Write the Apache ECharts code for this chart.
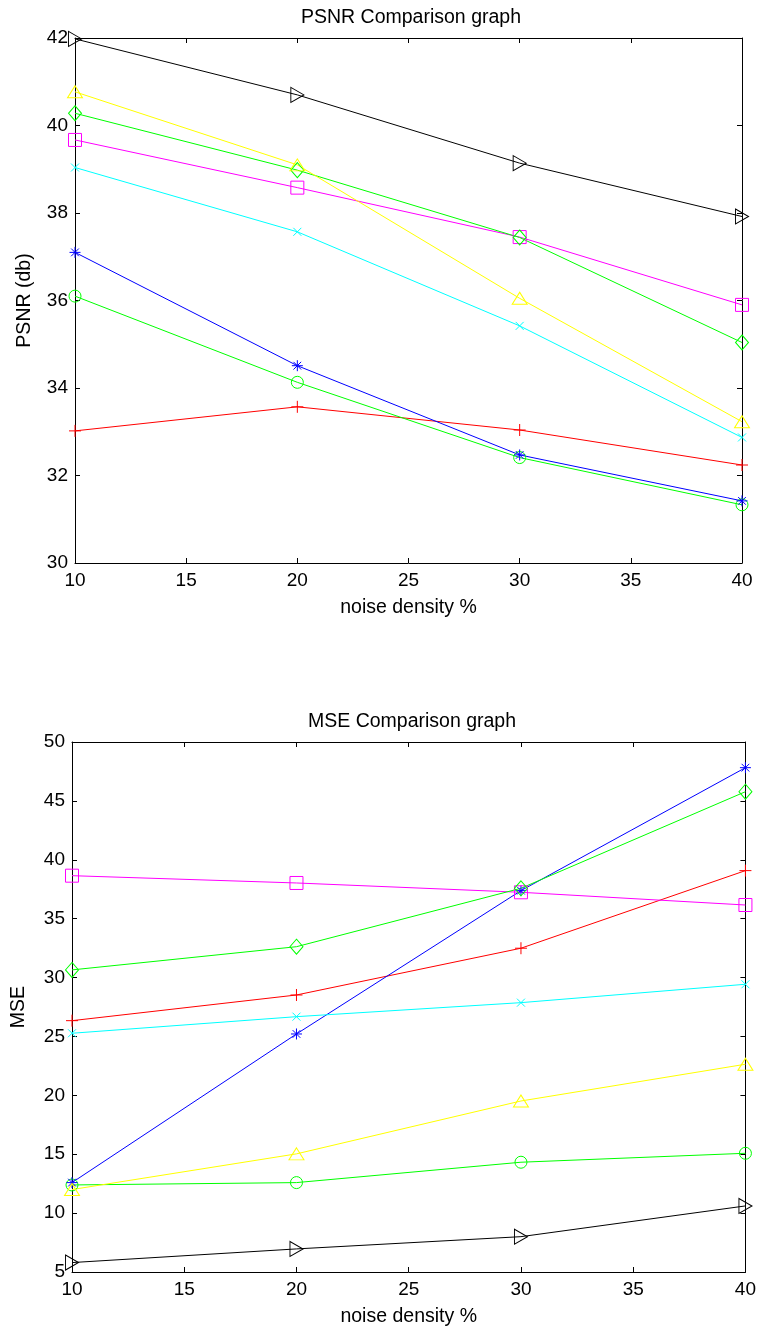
<!DOCTYPE html>
<html>
<head>
<meta charset="utf-8">
<script src="https://cdn.jsdelivr.net/npm/echarts@6/dist/echarts.min.js"></script>
<style>
  html, body { margin: 0; padding: 0; background: #fff; }
  #main { width: 759px; height: 1331px; }
</style>
</head>
<body>
<div id="main"></div>
<script>
// noise density levels (x axis)
var noise = [10, 20, 30, 40];

// PSNR values (top graph)
var psnrTriRight = [41.98, 40.70, 39.14, 37.92];
var psnrTriUp = [40.77, 39.10, 36.05, 33.23];
var psnrDiamond = [40.28, 38.98, 37.44, 35.04];
var psnrSquare = [39.67, 38.58, 37.45, 35.90];
var psnrCross = [39.04, 37.57, 35.42, 32.87];
var psnrStar = [37.10, 34.51, 32.47, 31.42];
var psnrCircle = [36.10, 34.13, 32.41, 31.33];
var psnrPlus = [33.02, 33.57, 33.04, 32.24];

// MSE values (bottom graph)
var mseSquare = [38.65, 38.03, 37.24, 36.16];
var mseDiamond = [30.65, 32.62, 37.58, 45.78];
var mseStar = [12.59, 25.21, 37.38, 47.82];
var msePlus = [26.34, 28.52, 32.49, 39.08];
var mseCross = [25.27, 26.68, 27.87, 29.43];
var mseTriUp = [12.0, 15.03, 19.52, 22.64];
var mseCircle = [12.39, 12.59, 14.32, 15.08];
var mseTriRight = [5.80, 6.96, 8.0, 10.61];

var FONT = 'Liberation Sans, Arial, sans-serif';

var SYM = {
  triRight: 'path://M0,0L10,5L0,10Z',
  triUp: 'triangle',
  diamond: 'diamond',
  square: 'rect',
  circle: 'circle',
  plus: 'path://M5,0L5,10M0,5L10,5',
  star: 'path://M5,0L5,10M0,5L10,5M1.5,1.5L8.5,8.5M1.5,8.5L8.5,1.5',
  cross: 'path://M0,0L10,10M0,10L10,0'
};

function pair(vals) {
  return vals.map(function (v, i) { return [noise[i], v]; });
}

function line(name, vals, color, sym, size, gi) {
  return {
    name: name,
    type: 'line',
    xAxisIndex: gi * 2,
    yAxisIndex: gi * 2,
    data: pair(vals),
    symbol: SYM[sym],
    symbolSize: size,
    showSymbol: true,
    lineStyle: { color: color, width: 1 },
    itemStyle: { color: 'none', borderColor: color, borderWidth: 1 },
    emphasis: { disabled: true },
    z: 3
  };
}

function xAxes(gi) {
  var main = {
    type: 'value', gridIndex: gi, min: 10, max: 40, interval: 5,
    position: 'bottom',
    name: 'noise density %', nameLocation: 'middle', nameGap: 35,
    nameTextStyle: { color: '#000', fontSize: 19.5, fontFamily: FONT },
    axisLine: { show: true, onZero: false, lineStyle: { color: '#000', width: 1 } },
    axisTick: { show: true, inside: true, length: 5, lineStyle: { color: '#000' } },
    axisLabel: { color: '#000', fontSize: 19, fontFamily: FONT, margin: 8 },
    splitLine: { show: false }
  };
  var top = {
    type: 'value', gridIndex: gi, min: 10, max: 40, interval: 5,
    position: 'top',
    axisLine: { show: true, onZero: false, lineStyle: { color: '#000', width: 1 } },
    axisTick: { show: true, inside: true, length: 5, lineStyle: { color: '#000' } },
    axisLabel: { show: false },
    splitLine: { show: false }
  };
  return [main, top];
}

function yAxes(gi, min, max, step, name, gap) {
  var main = {
    type: 'value', gridIndex: gi, min: min, max: max, interval: step,
    position: 'left',
    name: name, nameLocation: 'middle', nameGap: gap, nameRotate: 90,
    nameTextStyle: { color: '#000', fontSize: 19.5, fontFamily: FONT },
    axisLine: { show: true, onZero: false, lineStyle: { color: '#000', width: 1 } },
    axisTick: { show: true, inside: true, length: 5, lineStyle: { color: '#000' } },
    axisLabel: { color: '#000', fontSize: 19, fontFamily: FONT, margin: 7 },
    splitLine: { show: false }
  };
  var right = {
    type: 'value', gridIndex: gi, min: min, max: max, interval: step,
    position: 'right',
    axisLine: { show: true, onZero: false, lineStyle: { color: '#000', width: 1 } },
    axisTick: { show: true, inside: true, length: 5, lineStyle: { color: '#000' } },
    axisLabel: { show: false },
    splitLine: { show: false }
  };
  return [main, right];
}

var myChart = echarts.init(document.getElementById('main'));

var option = {
  animation: false,
  backgroundColor: '#fff',
  title: [
    {
      text: 'PSNR Comparison graph', left: 406, top: 3, textAlign: 'center',
      textStyle: { color: '#000', fontSize: 19.5, fontWeight: 'normal', fontFamily: FONT }
    },
    {
      text: 'MSE Comparison graph', left: 407, top: 707, textAlign: 'center',
      textStyle: { color: '#000', fontSize: 19.5, fontWeight: 'normal', fontFamily: FONT }
    }
  ],
  grid: [
    { left: 75, top: 38, width: 667, height: 525 },
    { left: 72, top: 742, width: 674, height: 530 }
  ],
  xAxis: xAxes(0).concat(xAxes(1)),
  yAxis: yAxes(0, 30, 42, 2, 'PSNR (db)', 40).concat(yAxes(1, 5, 50, 5, 'MSE', 43)),
  series: [
    line('psnr plus', psnrPlus, '#ff0000', 'plus', 12, 0),
    line('psnr circle', psnrCircle, '#00ff00', 'circle', 12, 0),
    line('psnr star', psnrStar, '#0000ff', 'star', 11, 0),
    line('psnr x', psnrCross, '#00ffff', 'cross', 8, 0),
    line('psnr square', psnrSquare, '#ff00ff', 'square', 13, 0),
    line('psnr diamond', psnrDiamond, '#00ff00', 'diamond', [13, 15], 0),
    line('psnr triangle', psnrTriUp, '#ffff00', 'triUp', [15, 12], 0),
    line('psnr right triangle', psnrTriRight, '#000000', 'triRight', [13, 15], 0),

    line('mse plus', msePlus, '#ff0000', 'plus', 12, 1),
    line('mse circle', mseCircle, '#00ff00', 'circle', 12, 1),
    line('mse star', mseStar, '#0000ff', 'star', 11, 1),
    line('mse x', mseCross, '#00ffff', 'cross', 8, 1),
    line('mse square', mseSquare, '#ff00ff', 'square', 13, 1),
    line('mse diamond', mseDiamond, '#00ff00', 'diamond', [13, 15], 1),
    line('mse triangle', mseTriUp, '#ffff00', 'triUp', [15, 12], 1),
    line('mse right triangle', mseTriRight, '#000000', 'triRight', [13, 15], 1)
  ]
};

myChart.setOption(option);
</script>
</body>
</html>
